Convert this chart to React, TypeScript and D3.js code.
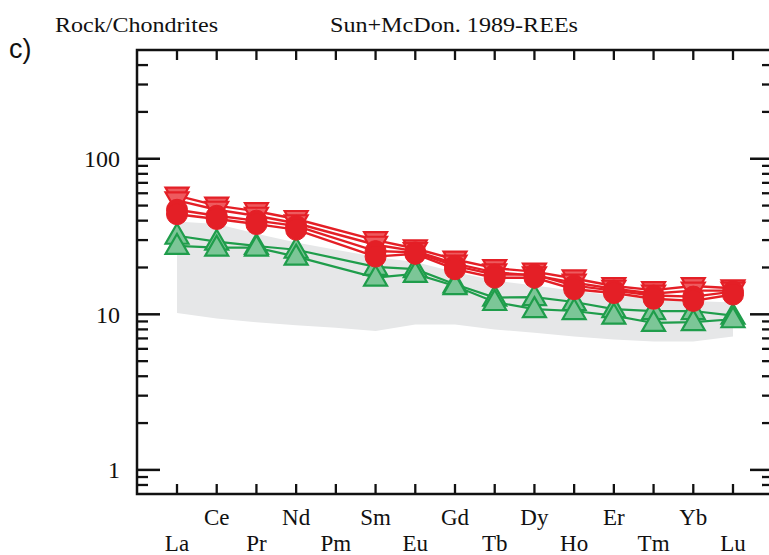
import React from "react";
import * as d3 from "d3";

const elements = ["La","Ce","Pr","Nd","Pm","Sm","Eu","Gd","Tb","Dy","Ho","Er","Tm","Yb","Lu"];
const yMajorTicks = [1, 10, 100];
const yMinorTicks = [0.8, 0.9, 2, 3, 4, 5, 6, 7, 8, 9, 20, 30, 40, 50, 60, 70, 80, 90, 200, 300, 400];

// gray reference field (upper and lower bounds)
const fieldUpper = [39.5, 38, 33, 29, 26, 23.4, 21.7, 18.7, 16.5, 15.3, 14.2, 13.2, 12.5, 12.2, 11.9];
const fieldLower = [10.2, 9.4, 8.9, 8.5, 8.2, 7.8, 8.6, 8.6, 8.0, 7.6, 7.2, 6.9, 6.7, 6.7, 7.2];

// null = no data (Pm)
const redTri1 = [58, 50, 46, 41, null, 30, 26.5, 22.5, 19.8, 18.8, 17, 15.2, 14.3, 15.2, 14.7];
const redTri2 = [54, 47, 43, 38.5, null, 28, 25.5, 21.2, 18.6, 17.8, 16, 14.6, 13.6, 14.2, 14.2];
const redCirc1 = [47, 43, 40, 37, null, 25.5, 25, 20.5, 18, 18, 15.3, 14.2, 13.2, 13, 14];
const redCirc2 = [44, 41, 38, 35, null, 23.5, 24.5, 19.5, 17.2, 17.2, 14.5, 13.7, 12.6, 12.2, 13.4];
const greenTri1 = [32, 29.3, 27.5, 26, null, 20.2, 19.5, 15.6, 12.8, 12.9, 12, 10.8, 10.5, 10.5, 9.8];
const greenTri2 = [27.5, 26.8, 26.8, 23.5, null, 17.2, 18.2, 15.2, 12, 10.8, 10.5, 9.8, 8.8, 8.9, 9.3];

const W = 769, H = 555;
const frame = { left: 137, right: 773, top: 50, bottom: 494 };
const serif = "'Liberation Serif', 'DejaVu Serif', serif";
const sans = "'Liberation Sans', Arimo, Arial, sans-serif";

export default function App() {
  const x = d3.scaleLinear().domain([0, elements.length - 1]).range([177, 733]);
  const y = d3.scaleLog().domain([0.7, 500]).range([frame.bottom, frame.top]);

  const pts = (arr: (number | null)[]) =>
    arr.map((v, i) => ({ v, i })).filter((p) => p.v != null) as { v: number; i: number }[];

  const line = d3.line<{ v: number; i: number }>()
    .x((p) => x(p.i))
    .y((p) => y(p.v));

  const area = d3.area<number>()
    .x((_, i) => x(i))
    .y0((_, i) => y(fieldLower[i]))
    .y1((d) => y(d));

  const red = "#e41f26";
  const redLight = "#ee5a5e";
  const green = "#1f9d4b";
  const greenFill = "#7cc697";

  const triUp = (cx: number, cy: number) => {
    const w = 11.5, h = 20;
    return `M${cx},${cy - h * 0.6}L${cx + w},${cy + h * 0.4}L${cx - w},${cy + h * 0.4}Z`;
  };
  const triDown = (cx: number, cy: number) => {
    const w = 11.5, h = 20;
    return `M${cx - w},${cy - h * 0.4}L${cx + w},${cy - h * 0.4}L${cx},${cy + h * 0.6}Z`;
  };

  return (
    <svg width={W} height={H} style={{ position: "absolute", left: 0, top: 0, background: "#fff" }}>
      <rect x={0} y={0} width={W} height={H} fill="#fff" />
      <text x={55} y={32} fontFamily={serif} fontSize={21.5} fill="#111" textLength={163} lengthAdjust="spacingAndGlyphs">Rock/Chondrites</text>
      <text x={330} y={32} fontFamily={serif} fontSize={21.5} fill="#111" textLength={248} lengthAdjust="spacingAndGlyphs">Sun+McDon. 1989-REEs</text>
      <text x={9} y={58} fontFamily={sans} fontSize={27} fill="#111">c)</text>

      {/* gray field */}
      <path d={area(fieldUpper) || ""} fill="#e6e7e8" stroke="none" />

      {/* green series */}
      {[greenTri1, greenTri2].map((s, k) => (
        <path key={"gl" + k} d={line(pts(s)) || ""} fill="none" stroke={green} strokeWidth={2.2} />
      ))}
      {[greenTri1, greenTri2].map((s, k) =>
        pts(s).map((p) => (
          <path key={"gm" + k + "-" + p.i} d={triUp(x(p.i), y(p.v))} fill={greenFill} stroke={green} strokeWidth={2.2} />
        ))
      )}

      {/* red series lines */}
      {[redTri1, redTri2, redCirc1, redCirc2].map((s, k) => (
        <path key={"rl" + k} d={line(pts(s)) || ""} fill="none" stroke={red} strokeWidth={2.4} />
      ))}
      {[redTri1, redTri2].map((s, k) =>
        pts(s).map((p) => (
          <path key={"rt" + k + "-" + p.i} d={triDown(x(p.i), y(p.v))} fill={redLight} stroke={red} strokeWidth={2.2} />
        ))
      )}
      {[redCirc1, redCirc2].map((s, k) =>
        pts(s).map((p) => (
          <circle key={"rc" + k + "-" + p.i} cx={x(p.i)} cy={y(p.v)} r={10.5} fill={red} stroke={red} strokeWidth={1} />
        ))
      )}

      {/* frame */}
      <rect x={frame.left} y={frame.top} width={frame.right - frame.left} height={frame.bottom - frame.top}
        fill="none" stroke="#111" strokeWidth={2.5} />

      {/* y ticks */}
      {yMajorTicks.map((t) => (
        <g key={"ym" + t}>
          <line x1={frame.left} x2={frame.left + 23} y1={y(t)} y2={y(t)} stroke="#111" strokeWidth={2.5} />
          <line x1={frame.right} x2={frame.right - 23} y1={y(t)} y2={y(t)} stroke="#111" strokeWidth={2.5} />
          <text x={120} y={y(t)} dy="0.35em" textAnchor="end" fontFamily={serif} fontSize={24} fill="#111">{t}</text>
        </g>
      ))}
      {yMinorTicks.map((t) => (
        <g key={"yn" + t}>
          <line x1={frame.left} x2={frame.left + 11} y1={y(t)} y2={y(t)} stroke="#111" strokeWidth={2.3} />
          <line x1={frame.right} x2={frame.right - 11} y1={y(t)} y2={y(t)} stroke="#111" strokeWidth={2.3} />
        </g>
      ))}

      {/* x ticks and labels */}
      {elements.map((e, i) => (
        <g key={"x" + e}>
          <line x1={x(i)} x2={x(i)} y1={frame.top} y2={frame.top + 10} stroke="#111" strokeWidth={2.3} />
          <line x1={x(i)} x2={x(i)} y1={frame.bottom} y2={frame.bottom - 10} stroke="#111" strokeWidth={2.3} />
          <text x={x(i)} y={i % 2 === 0 ? 551 : 525} textAnchor="middle" fontFamily={serif} fontSize={23} fill="#111">{e}</text>
        </g>
      ))}
    </svg>
  );
}
